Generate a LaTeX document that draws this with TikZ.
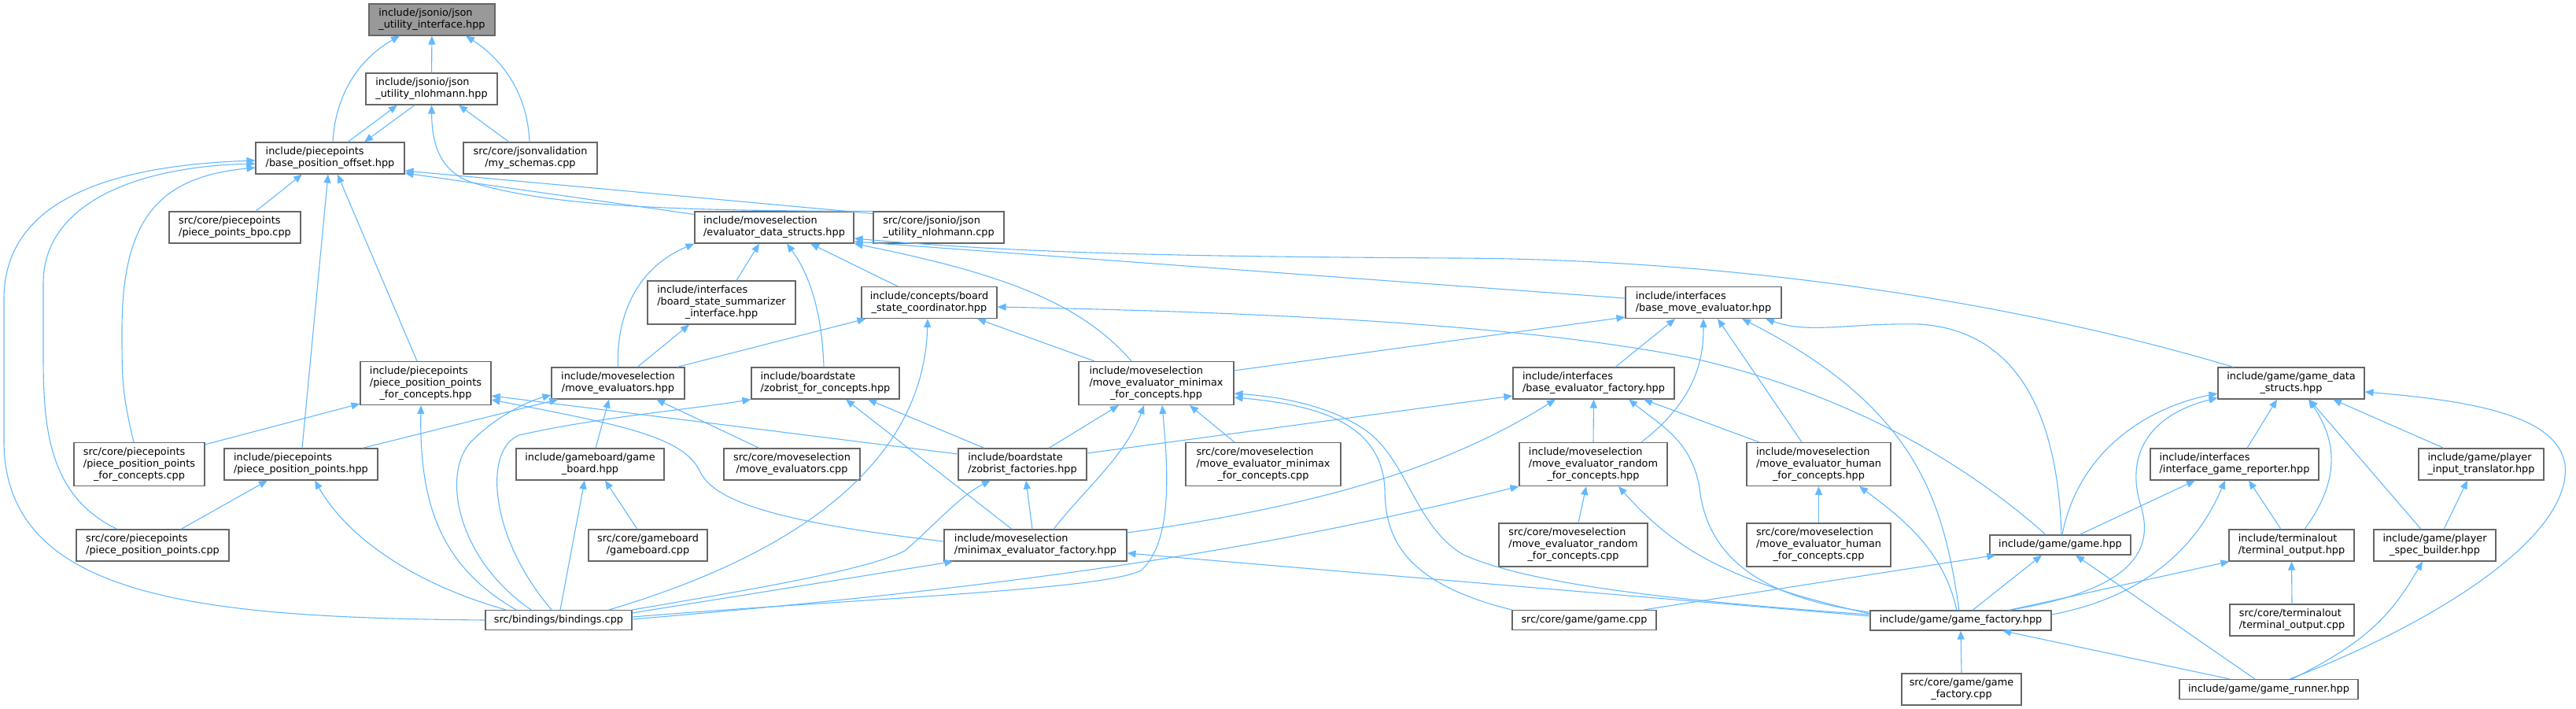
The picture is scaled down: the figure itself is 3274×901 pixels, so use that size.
\documentclass[tikz,border=0pt]{standalone}
\usepackage{fontspec}
\setmainfont{DejaVu Sans}
\usepackage{tikz}
\usetikzlibrary{
	arrows.meta,
	positioning,
	calc
}
\usepackage{xcolor}
\definecolor{edgeblue}{HTML}{63B8FF}
\definecolor{boxline}{HTML}{666666}
\definecolor{rootfill}{HTML}{999999}
\newcommand{\lblone}[1]{\begin{tabular}{@{}c@{}}#1\end{tabular}}
\newcommand{\lbltwo}[2]{\begin{tabular}{@{}l@{}}#1\\\multicolumn{1}{@{}c@{}}{#2}\end{tabular}}
\newcommand{\lblthree}[3]{\begin{tabular}{@{}l@{}}#1\\#2\\\multicolumn{1}{@{}c@{}}{#3}\end{tabular}}

\begin{document}
\begin{tikzpicture}[
			x=1pt, y=1pt,
			file/.style={draw=boxline, fill=white, line width=1.1pt, inner xsep=2pt, inner ysep=5pt,
				font=\fontsize{12.85}{15}\selectfont},
			dep/.style={draw=edgeblue, line width=1.1pt, -{Triangle[length=11pt,width=9pt]}}
			]
			\useasboundingbox (0,0) rectangle (3274,-901);
			
			% Rank 0-3
			\node[file, fill=rootfill, minimum width=160] (root) at (549,-25) {\lbltwo{include/jsonio/json}{\_utility\_interface.hpp}};
			\node[file, minimum width=167] (jnh) at (548.5,-113) {\lbltwo{include/jsonio/json}{\_utility\_nlohmann.hpp}};
			\node[file, minimum width=189] (bpo) at (419.5,-201) {\lbltwo{include/piecepoints}{/base\_position\_offset.hpp}};
			\node[file, minimum width=170] (schemas) at (674,-201) {\lbltwo{src/core/jsonvalidation}{/my\_schemas.cpp}};
			\node[file, minimum width=167] (bpocpp) at (298.5,-289) {\lbltwo{src/core/piecepoints}{/piece\_points\_bpo.cpp}};
			\node[file, minimum width=202] (eds) at (984,-289) {\lbltwo{include/moveselection}{/evaluator\_data\_structs.hpp}};
			\node[file, minimum width=166] (jnhcpp) at (1193,-289) {\lbltwo{src/core/jsonio/json}{\_utility\_nlohmann.cpp}};
			
			% Rank 4-5
			\node[file, minimum width=188] (bssi) at (917,-384.5) {\lblthree{include/interfaces}{/board\_state\_summarizer}{\_interface.hpp}};
			\node[file, minimum width=172] (bsc) at (1181,-384.5) {\lbltwo{include/concepts/board}{\_state\_coordinator.hpp}};
			\node[file, minimum width=198] (bme) at (2165,-384.5) {\lbltwo{include/interfaces}{/base\_move\_evaluator.hpp}};
			\node[file, minimum width=186] (gds) at (2912,-487) {\lbltwo{include/game/game\_data}{\_structs.hpp}};
			\node[file, minimum width=166] (pppfc) at (541,-487) {\lblthree{include/piecepoints}{/piece\_position\_points}{\_for\_concepts.hpp}};
			\node[file, minimum width=169] (mevs) at (785.5,-487) {\lbltwo{include/moveselection}{/move\_evaluators.hpp}};
			\node[file, minimum width=188] (zfc) at (1049,-487) {\lbltwo{include/boardstate}{/zobrist\_for\_concepts.hpp}};
			\node[file, minimum width=197] (mmfc) at (1469.5,-487) {\lblthree{include/moveselection}{/move\_evaluator\_minimax}{\_for\_concepts.hpp}};
			\node[file, minimum width=205] (bef) at (2025.5,-487) {\lbltwo{include/interfaces}{/base\_evaluator\_factory.hpp}};
			
			% Rank 6
			\node[file, minimum width=166] (pppfccpp) at (177,-590) {\lblthree{src/core/piecepoints}{/piece\_position\_points}{\_for\_concepts.cpp}};
			\node[file, minimum width=195] (ppp) at (382.5,-590) {\lbltwo{include/piecepoints}{/piece\_position\_points.hpp}};
			\node[file, minimum width=188] (gb) at (750,-590) {\lbltwo{include/gameboard/game}{\_board.hpp}};
			\node[file, minimum width=173] (mevscpp) at (1006.5,-590) {\lbltwo{src/core/moveselection}{/move\_evaluators.cpp}};
			\node[file, minimum width=163] (zf) at (1299.5,-590) {\lbltwo{include/boardstate}{/zobrist\_factories.hpp}};
			\node[file, minimum width=197] (mmcpp) at (1605.5,-590) {\lblthree{src/core/moveselection}{/move\_evaluator\_minimax}{\_for\_concepts.cpp}};
			\node[file, minimum width=188] (rnd) at (2025,-590) {\lblthree{include/moveselection}{/move\_evaluator\_random}{\_for\_concepts.hpp}};
			\node[file, minimum width=183] (hum) at (2311.5,-590) {\lblthree{include/moveselection}{/move\_evaluator\_human}{\_for\_concepts.hpp}};
			\node[file, minimum width=214] (igr) at (2840,-590) {\lbltwo{include/interfaces}{/interface\_game\_reporter.hpp}};
			\node[file, minimum width=159] (pit) at (3153.5,-590) {\lbltwo{include/game/player}{\_input\_translator.hpp}};
			
			% Rank 7
			\node[file, minimum width=194] (pppcpp) at (194,-693) {\lbltwo{src/core/piecepoints}{/piece\_position\_points.cpp}};
			\node[file, minimum width=151] (gbcpp) at (823.5,-693) {\lbltwo{src/core/gameboard}{/gameboard.cpp}};
			\node[file, minimum width=232] (mef) at (1316,-693) {\lbltwo{include/moveselection}{/minimax\_evaluator\_factory.hpp}};
			\node[file, minimum width=189] (rndcpp) at (1999.5,-692.5) {\lblthree{src/core/moveselection}{/move\_evaluator\_random}{\_for\_concepts.cpp}};
			\node[file, minimum width=183] (humcpp) at (2311.5,-692.5) {\lblthree{src/core/moveselection}{/move\_evaluator\_human}{\_for\_concepts.cpp}};
			\node[file, minimum width=179] (game) at (2618.5,-692.5) {\lblone{include/game/game.hpp}};
			\node[file, minimum width=159] (tout) at (2912.5,-693) {\lbltwo{include/terminalout}{/terminal\_output.hpp}};
			\node[file, minimum width=155] (psb) at (3094.5,-693) {\lbltwo{include/game/player}{\_spec\_builder.hpp}};
			
			% Rank 8-9
			\node[file, minimum width=186] (bind) at (710,-788) {\lblone{src/bindings/bindings.cpp}};
			\node[file, minimum width=183] (gamecpp) at (2013.5,-788) {\lblone{src/core/game/game.cpp}};
			\node[file, minimum width=230] (gf) at (2492,-788.5) {\lblone{include/game/game\_factory.hpp}};
			\node[file, minimum width=158] (toutcpp) at (2913,-788) {\lbltwo{src/core/terminalout}{/terminal\_output.cpp}};
			\node[file, minimum width=152] (gfcpp) at (2493,-876) {\lbltwo{src/core/game/game}{\_factory.cpp}};
			\node[file, minimum width=227] (runner) at (2883.5,-876) {\lblone{include/game/game\_runner.hpp}};
			
			% Into the root and json headers
			\draw[dep] (jnh) -- (root);
			\draw[dep] ([xshift=3.5]bpo.north) .. controls (427,-110) and (465,-70) .. ([xshift=-41]root.south);
			\draw[dep] ([xshift=-1]schemas.north) .. controls (670,-110) and (630,-70) .. ([xshift=43]root.south);
			\draw[dep] ([xshift=22.5]bpo.north) -- ([xshift=-43.5]jnh.south);
			\draw[dep] ([xshift=-27]schemas.north) -- ([xshift=34.5]jnh.south);
			\draw[dep] (jnhcpp.north west) .. controls (850,-268) and (700,-262) .. (600,-232) .. controls (560,-218) and (549,-185) .. (jnh.south);
			
			% Into base_position_offset
			\draw[dep] ([xshift=-21.5]jnh.south) -- ([xshift=43.5]bpo.north);
			\draw[dep] (bind.west) .. controls (250,-785) and (5,-760) .. (5,-560) -- (5,-380) .. controls (5,-250) and (150,-210) .. ([yshift=-3]bpo.west);
			\draw[dep] ([xshift=-45]pppcpp.north) .. controls (60,-630) and (55,-540) .. (55,-450) -- (55,-360) .. controls (55,-260) and (170,-212) .. ([yshift=-7]bpo.west);
			\draw[dep] ([xshift=-7]pppfccpp.north) .. controls (155,-500) and (155,-480) .. (155,-420) .. controls (155,-280) and (200,-225) .. ([yshift=-12]bpo.west);
			\draw[dep] ([xshift=26.5]bpocpp.north) -- ([xshift=-35.5]bpo.south);
			\draw[dep] ([xshift=1.5]ppp.north) -- ([xshift=-2.5]bpo.south);
			\draw[dep] ([xshift=-11]pppfc.north) -- ([xshift=9.5]bpo.south);
			\draw[dep] ([yshift=-3]jnhcpp.north west) -- ([yshift=-16]bpo.east);
			\draw[dep] ([yshift=-4]eds.north west) -- ([yshift=-19]bpo.east);
			
			% Into evaluator_data_structs
			\draw[dep] (mevs.north) .. controls (783,-400) and (810,-340) .. (eds.south west);
			\draw[dep] ([xshift=19]bssi.north) -- ([xshift=-19]eds.south);
			\draw[dep] ([xshift=-2]zfc.north) .. controls (1045,-400) and (1030,-350) .. ([xshift=16]eds.south);
			\draw[dep] ([xshift=-40]bsc.north) -- ([xshift=46]eds.south);
			\draw[dep] ([xshift=-31.5]mmfc.north) .. controls (1370,-380) and (1260,-345) .. (eds.south east);
			\draw[dep] ([xshift=20]gds.north west) .. controls (2600,-395) and (2250,-330) .. (1850,-328) .. controls (1500,-326) and (1300,-322) .. ([yshift=-14]eds.east);
			\draw[dep] ([yshift=5.5]bme.west) -- ([yshift=-18]eds.east);
			
			% Into board state headers
			\draw[dep] ([xshift=24.5]mevs.north) -- ([xshift=-41]bssi.south);
			\draw[dep] ([xshift=-10]mevs.north east) -- ([xshift=6]bsc.south west);
			\draw[dep] ([xshift=64]bind.north) .. controls (1060,-690) and (1175,-560) .. ([xshift=-2]bsc.south);
			\draw[dep] ([xshift=-78.5]mmfc.north) -- ([xshift=61]bsc.south);
			\draw[dep] ([xshift=-18.5]game.north) .. controls (2500,-590) and (2350,-500) .. (2150,-455) .. controls (1900,-405) and (1500,-395) .. ([yshift=-5.5]bsc.east);
			
			% Into base_move_evaluator
			\draw[dep] ([xshift=27.5]bef.north) -- ([xshift=-36]bme.south);
			\draw[dep] ([xshift=61]rnd.north) .. controls (2160,-505) and (2165,-450) .. (bme.south);
			\draw[dep] ([xshift=-21.5]hum.north) -- ([xshift=18]bme.south);
			\draw[dep] ([xshift=-2]gf.north) .. controls (2470,-640) and (2440,-520) .. ([xshift=49]bme.south);
			\draw[dep] ([xshift=1.5]game.north) .. controls (2615,-520) and (2560,-420) .. (2440,-412) .. controls (2350,-410) and (2300,-425) .. ([xshift=79]bme.south);
			\draw[dep] ([yshift=-12]mmfc.north east) -- ([yshift=2]bme.south west);
			
			% Into piece_position_points_for_concepts
			\draw[dep] ([yshift=-3]pppfccpp.north east) -- ([yshift=2]pppfc.south west);
			\draw[dep] ([yshift=13]zf.west) -- ([yshift=-16]pppfc.east);
			\draw[dep] ([yshift=5]mef.west) .. controls (1000,-665) and (910,-640) .. (890,-600) .. controls (870,-555) and (790,-540) .. ([yshift=-21]pppfc.east);
			\draw[dep] ([xshift=-54]bind.north) .. controls (560,-720) and (533,-640) .. ([xshift=-6]pppfc.south);
			
			% Into move_evaluators
			\draw[dep] ([xshift=-35]bind.north) .. controls (580,-710) and (560,-600) .. (600,-560) .. controls (630,-530) and (670,-510) .. ([yshift=-15]mevs.west);
			\draw[dep] ([xshift=-20]ppp.north east) -- ([xshift=9]mevs.south west);
			\draw[dep] ([xshift=-41.5]mevscpp.north) -- ([xshift=48.5]mevs.south);
			\draw[dep] ([xshift=7]gb.north) -- ([xshift=-11.5]mevs.south);
			
			% Into zobrist_for_concepts
			\draw[dep] ([xshift=-9]bind.north) .. controls (620,-680) and (615,-570) .. (660,-553) .. controls (760,-530) and (880,-520) .. (zfc.south west);
			\draw[dep] ([xshift=-48.5]zf.north) -- ([xshift=54]zfc.south);
			\draw[dep] ([xshift=-30]mef.north) -- ([xshift=26]zfc.south);
			
			% Into move_evaluator_minimax_for_concepts
			\draw[dep] ([xshift=33.5]zf.north) -- ([xshift=-47.5]mmfc.south);
			\draw[dep] ([xshift=23]mef.north) .. controls (1380,-620) and (1430,-580) .. ([xshift=-15.5]mmfc.south);
			\draw[dep] ([yshift=4]bind.east) .. controls (1100,-760) and (1400,-750) .. (1450,-725) .. controls (1490,-690) and (1485,-600) .. ([xshift=7.5]mmfc.south);
			\draw[dep] ([xshift=-36.5]mmcpp.north) -- ([xshift=42.5]mmfc.south);
			\draw[dep] ([yshift=7.5]gf.west) .. controls (2150,-765) and (1950,-745) .. (1860,-705) .. controls (1800,-670) and (1790,-590) .. (1740,-550) .. controls (1700,-520) and (1640,-505) .. ([yshift=-13]mmfc.east);
			\draw[dep] (gamecpp.north west) .. controls (1780,-740) and (1760,-680) .. (1760,-620) .. controls (1755,-540) and (1680,-515) .. ([yshift=-18]mmfc.east);
			
			% Into base_evaluator_factory
			\draw[dep] ([yshift=14]zf.east) -- ([yshift=-16]bef.west);
			\draw[dep] ([yshift=16]mef.east) .. controls (1660,-645) and (1830,-600) .. ([xshift=-48.5]bef.south);
			\draw[dep] (rnd.north) -- (bef.south);
			\draw[dep] ([yshift=10.5]gf.west) .. controls (2240,-760) and (2170,-710) .. (2160,-620) .. controls (2150,-560) and (2110,-540) .. ([xshift=44.5]bef.south);
			\draw[dep] ([xshift=-75.5]hum.north) -- ([xshift=63.5]bef.south);
			
			% Into piece_position_points, game_board, zobrist_factories
			\draw[dep] ([xshift=36]pppcpp.north) -- ([xshift=-42.5]ppp.south);
			\draw[dep] ([xshift=-67]bind.north) .. controls (520,-740) and (440,-680) .. ([xshift=17.5]ppp.south);
			\draw[dep] ([xshift=2]bind.north) -- ([xshift=-7]gb.south);
			\draw[dep] ([xshift=-13.5]gbcpp.north) -- ([xshift=19]gb.south);
			\draw[dep] ([xshift=-4]mef.north) -- ([xshift=4.5]zf.south);
			\draw[dep] (bind.north east) .. controls (950,-750) and (1100,-725) .. (1150,-700) .. controls (1185,-670) and (1220,-630) .. ([xshift=-40.5]zf.south);
			
			% Into random and human evaluators
			\draw[dep] ([xshift=6.5]rndcpp.north) -- ([xshift=-9]rnd.south);
			\draw[dep] ([yshift=8.5]gf.west) .. controls (2200,-740) and (2130,-700) .. ([xshift=32]rnd.south);
			\draw[dep] ([yshift=1]bind.east) .. controls (1300,-745) and (1600,-700) .. (rnd.south west);
			\draw[dep] (humcpp.north) -- (hum.south);
			\draw[dep] ([xshift=-5]gf.north) .. controls (2470,-700) and (2420,-660) .. ([xshift=51.5]hum.south);
			
			% Into game_data_structs
			\draw[dep] ([xshift=16]igr.north) -- ([xshift=-18]gds.south);
			\draw[dep] ([xshift=2.5]game.north) .. controls (2640,-580) and (2720,-520) .. ([yshift=-13]gds.west);
			\draw[dep] ([xshift=61]gf.north) .. controls (2710,-750) and (2740,-700) .. (2720,-640) .. controls (2700,-570) and (2740,-525) .. ([yshift=2]gds.south west);
			\draw[dep] ([xshift=16.5]tout.north) .. controls (2975,-610) and (2970,-560) .. ([xshift=22]gds.south);
			\draw[dep] ([xshift=-17.5]psb.north) -- ([xshift=23]gds.south);
			\draw[dep] ([xshift=-47.5]pit.north) -- ([xshift=53]gds.south);
			\draw[dep] ([xshift=26.5]runner.north) .. controls (3100,-790) and (3270,-680) .. (3260,-590) .. controls (3250,-530) and (3150,-510) .. ([yshift=-11]gds.east);
			
			% Into interface_game_reporter and player headers
			\draw[dep] ([xshift=24.5]game.north) -- ([xshift=-50]igr.south);
			\draw[dep] ([xshift=-13.5]tout.north) -- ([xshift=18]igr.south);
			\draw[dep] ([yshift=7.5]gf.east) .. controls (2720,-760) and (2790,-700) .. ([xshift=-12]igr.south);
			\draw[dep] ([xshift=11.5]psb.north) -- ([xshift=-17.5]pit.south);
			\draw[dep] ([xshift=29.5]runner.north) .. controls (3010,-815) and (3040,-780) .. ([xshift=-15.5]psb.south);
			
			% Into minimax_evaluator_factory
			\draw[dep] ([yshift=-4]bind.north east) -- ([xshift=12]mef.south west);
			\draw[dep] ([yshift=5.5]gf.west) -- ([yshift=-10]mef.east);
			
			% Into game, terminal_output, game_factory
			\draw[dep] ([xshift=75.5]gamecpp.north) -- ([xshift=8]game.south west);
			\draw[dep] ([xshift=15]gf.north) -- ([xshift=-23.5]game.south);
			\draw[dep] ([xshift=-17.5]runner.north) -- ([xshift=19.5]game.south);
			\draw[dep] (toutcpp.north) -- (tout.south);
			\draw[dep] ([xshift=61]gf.north) -- ([xshift=1]tout.south west);
			\draw[dep] (gfcpp.north) -- (gf.south);
			\draw[dep] ([xshift=-49.5]runner.north) -- ([xshift=53]gf.south);
			
		\end{tikzpicture}
\end{document}
